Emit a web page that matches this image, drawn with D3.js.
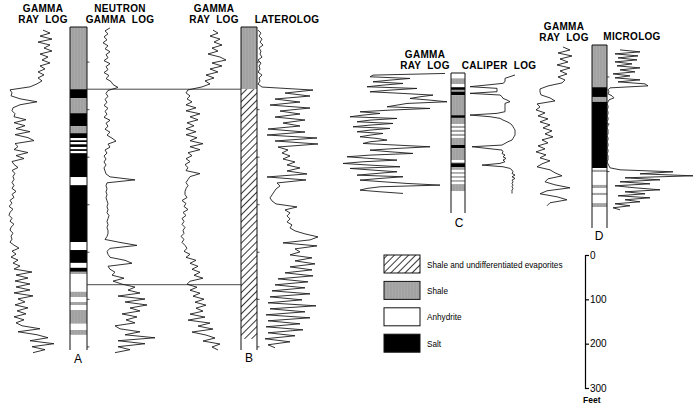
<!DOCTYPE html>
<html>
<head>
<meta charset="utf-8">
<script src="https://cdn.jsdelivr.net/npm/d3@7"></script>
<style>
  html, body { margin: 0; padding: 0; background: #fff; }
  svg { display: block; font-family: "Liberation Sans", Arial, sans-serif; }
</style>
</head>
<body>
<svg id="chart" width="700" height="406"></svg>
<script>
// lithology intervals per well: [top ft, base ft, rock]
const litA = [[0,140,'shale'],[140,160,'salt'],[160,194,'shale'],[194,223,'salt'],[223,239,'shale'],[239,250,'salt'],
  [250,255,'anhydrite'],[255,259,'salt'],[259,264,'anhydrite'],[264,270,'salt'],[270,275,'anhydrite'],[275,279,'salt'],
  [279,284,'anhydrite'],[284,338,'salt'],[338,356,'anhydrite'],[356,484,'salt'],[484,502,'anhydrite'],[502,531,'salt'],
  [531,542,'anhydrite'],[542,551,'salt'],[551,556,'shale'],[556,596,'anhydrite'],[596,608,'shale'],[608,619,'anhydrite'],
  [619,626,'shale'],[626,637,'anhydrite'],[637,668,'shale'],[668,682,'anhydrite'],[682,693,'shale'],[693,727,'anhydrite']];
const litB = [[0,140,'shale'],[140,702,'mixed'],[702,727,'anhydrite']];
const litC = [[0,12,'anhydrite'],[12,25,'shale'],[25,32,'anhydrite'],[32,38,'salt'],[38,42,'shale'],[42,50,'salt'],[50,95,'shale'],[95,101,'salt'],
  [101,115,'shale'],[115,119,'anhydrite'],[119,124,'shale'],[124,128,'anhydrite'],[128,133,'shale'],[133,137,'anhydrite'],
  [137,142,'shale'],[142,146,'anhydrite'],[146,162,'shale'],[162,169,'salt'],[169,196,'shale'],[196,201,'anhydrite'],
  [201,203,'shale'],[203,212,'salt'],[212,218,'shale'],[218,223,'anhydrite'],[223,227,'shale'],[227,232,'anhydrite'],
  [232,236,'shale'],[236,241,'anhydrite'],[241,245,'shale'],[245,250,'anhydrite'],[250,266,'shale'],[266,315,'anhydrite']];
const litD = [[0,95,'shale'],[95,117,'salt'],[117,128,'shale'],[128,277,'salt'],[277,281,'anhydrite'],[281,286,'shale'],
  [286,315,'anhydrite'],[315,322,'shale'],[322,333,'anhydrite'],[333,338,'shale'],[338,356,'anhydrite'],[356,365,'shale'],
  [365,412,'anhydrite']];

// total depth shown per well, feet
const wellDepth = { A: 727, B: 727, C: 315, D: 412 };
const tickDepthsAB = [79, 186, 293, 400, 507, 613, 720];
const tickDepthsD = [72, 178, 285];
const corrDepths = [140, 580];

// log readings, relative deflection (0-100), evenly spaced over their depth span
const gammaA = [76,90,70,94,66,90,78,94,70,86,74,90,70,80,66,78,66,74,64,50,10,14,12,30,64,30,16,14,20,18,42,18,40,22,50,20,
  46,58,20,26,18,46,22,38,14,18,26,14,20,16,18,14,18,14,22,14,18,10,14,8,16,10,8,14,10,18,12,10,16,12,14,10,18,28,14,22,12,
  26,16,30,18,54,22,46,20,50,22,50,18,56,26,40,20,46,24,42,18,38,22,34,70,26,64,86,50,98,54,80,56];
const neutronA = [20,10,16,8,14,6,16,10,20,12,16,8,20,12,16,8,18,12,22,26,36,16,12,16,10,14,8,16,10,14,8,20,12,16,10,20,14,
  24,32,16,20,10,14,8,12,8,12,8,10,12,20,70,14,12,14,12,14,12,14,16,14,16,14,18,16,14,16,14,16,16,14,10,40,74,20,14,16,20,
  50,64,16,20,30,24,48,26,44,70,56,80,36,90,50,94,60,80,44,74,52,70,30,40,80,50,110,36,90,36,60,30];
const gammaB = [66,76,60,80,68,84,64,76,56,80,92,64,84,60,76,52,68,50,60,44,16,12,20,14,24,12,32,12,40,20,36,14,28,12,32,12,
  34,20,46,20,40,16,24,12,20,10,16,12,40,20,16,12,16,12,10,10,14,4,12,8,16,6,12,4,8,4,10,6,8,2,8,4,10,14,8,20,12,32,20,36,
  24,40,28,46,20,14,34,20,40,26,48,30,52,32,46,20,50,16,60,36,66,24,52,70,46,80,64,76];
const lateroB = [2,8,4,10,6,12,4,8,6,10,2,8,4,6,2,10,4,6,2,10,112,56,106,36,86,26,106,46,86,36,96,52,86,22,96,20,120,36,122,
  42,62,50,66,52,76,60,86,60,100,20,98,40,46,38,34,30,26,30,38,80,56,66,60,66,60,70,66,76,96,122,106,52,120,76,86,66,110,
  76,116,66,110,56,112,42,102,36,96,30,106,26,90,22,118,26,96,18,106,22,86,18,92,22,76,16,66,22,36];
const gammaC = [105,33,30,70,50,33,63,43,27,77,50,30,63,93,80,70,90,107,67,57,47,90,50,20,40,23,10,57,30,17,53,30,13,50,30,
  17,43,30,20,37,47,30,23,57,90,57,30,50,73,30,7,30,57,23,3,30,60,10,33,57,37,17,63,40,20,43,67,100,40,27,20,40,63];
const caliperC = [100,90,80,80,80,76,44,10,64,64,64,10,70,74,76,84,90,80,80,80,80,80,80,64,10,50,70,76,84,90,94,96,98,100,
  100,100,100,98,96,94,86,80,74,14,44,74,76,74,80,76,82,76,80,70,34,76,90,94,96,94,100,94,100,94,96,94,96,94,96,94,94,94];
const gammaD = [66,80,56,84,60,76,54,80,60,74,56,70,64,36,20,20,22,40,50,14,20,12,30,16,36,20,40,26,44,30,46,24,36,16,30,12,
  32,20,40,24,14,40,50,64,36,30,50,80,34,20,54,74,40,34];
const microD = [15,35,10,33,13,32,10,27,12,35,15,30,8,25,10,35,13,40,43,5,3,4,3,7,9,4,
  3,2,3,3,2,3,3,2,3,3,2,3,3,2,3,3,3,2,3,3,2,3,3,2,3,3,2,3,3,3,2,3,4,
  5,15,68,35,88,20,55,15,45,10,30,55,20,40,13,45,20,35,10,25,8,15];

const legendItems = [
  { rock: 'mixed', label: 'Shale and undifferentiated evaporites' },
  { rock: 'shale', label: 'Shale' },
  { rock: 'anhydrite', label: 'Anhydrite' },
  { rock: 'salt', label: 'Salt' }
];
const scaleTicks = [0, 100, 200, 300];

// layout
const wellLayout = {
  A: { top: 27, bottom: 350, x0: 70, x1: 87, lx: 78, ly: 363, lit: litA, ticks: tickDepthsAB },
  B: { top: 27, bottom: 350, x0: 241, x1: 257, lx: 249, ly: 362, lit: litB, ticks: tickDepthsAB },
  C: { top: 73, bottom: 213, x0: 451, x1: 465, lx: 459, ly: 227, lit: litC, ticks: [] },
  D: { top: 45, bottom: 228, x0: 592, x1: 607, lx: 599, ly: 240, lit: litD, ticks: tickDepthsD }
};
const curves = [
  { data: gammaA, well: 'A', span: [7, 733], x: [5, 55] },
  { data: neutronA, well: 'A', span: [2, 733], x: [100, 150] },
  { data: gammaB, well: 'B', span: [7, 727], x: [180, 230] },
  { data: lateroB, well: 'B', span: [7, 722], x: [257, 307] },
  { data: gammaC, well: 'C', span: [1, 271], x: [340, 440] },
  { data: caliperC, well: 'C', span: [4.5, 271], x: [465, 515] },
  { data: gammaD, well: 'D', span: [4.5, 362], x: [530, 580] },
  { data: microD, well: 'D', span: [11, 371], x: [605, 705] }
];
const titles = [
  { lines: ['GAMMA', 'RAY LOG'], x: 43, y: 12 },
  { lines: ['NEUTRON', 'GAMMA LOG'], x: 120, y: 12 },
  { lines: ['GAMMA', 'RAY LOG'], x: 214, y: 12 },
  { lines: ['LATEROLOG'], x: 287, y: 23 },
  { lines: ['GAMMA', 'RAY LOG'], x: 425, y: 58 },
  { lines: ['CALIPER LOG'], x: 499, y: 69 },
  { lines: ['GAMMA', 'RAY LOG'], x: 564, y: 30 },
  { lines: ['MICROLOG'], x: 632, y: 40 }
];

const svg = d3.select('#chart');
const defs = svg.append('defs');

const shale = defs.append('pattern').attr('id', 'shale')
  .attr('patternUnits', 'userSpaceOnUse').attr('width', 3).attr('height', 6);
shale.append('rect').attr('width', 3).attr('height', 6).attr('fill', '#a9a9a9');
shale.append('line').attr('x1', 1).attr('x2', 1).attr('y1', 0).attr('y2', 6)
  .attr('stroke', '#909090').attr('stroke-width', 0.6);

const hatch = defs.append('pattern').attr('id', 'hatch')
  .attr('patternUnits', 'userSpaceOnUse').attr('width', 5).attr('height', 5)
  .attr('patternTransform', 'rotate(45)');
hatch.append('rect').attr('width', 5).attr('height', 5).attr('fill', '#fff');
hatch.append('line').attr('x1', 2.5).attr('x2', 2.5).attr('y1', 0).attr('y2', 5)
  .attr('stroke', '#222').attr('stroke-width', 0.9);

const rockFill = { shale: 'url(#shale)', mixed: 'url(#hatch)', anhydrite: '#fff', salt: '#000' };

// wells
const wellY = {};
Object.keys(wellLayout).forEach(k => {
  const L = wellLayout[k];
  const y = d3.scaleLinear().domain([0, wellDepth[k]]).range([L.top, L.bottom]);
  wellY[k] = y;
  const g = svg.append('g');
  g.selectAll('rect').data(L.lit).join('rect')
    .attr('x', L.x0).attr('width', L.x1 - L.x0)
    .attr('y', d => y(d[0])).attr('height', d => y(d[1]) - y(d[0]))
    .attr('fill', d => rockFill[d[2]]);
  g.append('path')
    .attr('d', `M${L.x0},${L.top}V${L.bottom}M${L.x1},${L.top}V${L.bottom}M${L.x0},${L.top}H${L.x1}`)
    .attr('stroke', '#111').attr('stroke-width', 1).attr('fill', 'none');
  g.selectAll('line').data(L.ticks).join('line')
    .attr('x1', L.x1).attr('x2', L.x1 + 2.5)
    .attr('y1', d => y(d)).attr('y2', d => y(d))
    .attr('stroke', '#222').attr('stroke-width', 0.8);
  g.append('text').attr('x', L.lx).attr('y', L.ly)
    .attr('text-anchor', 'middle').attr('font-size', 12).text(k);
});

// correlation lines between A and B
svg.selectAll('line.corr').data(corrDepths).join('line').attr('class', 'corr')
  .attr('x1', wellLayout.A.x1).attr('x2', wellLayout.B.x0)
  .attr('y1', d => wellY.A(d)).attr('y2', d => wellY.A(d))
  .attr('stroke', '#333').attr('stroke-width', 0.9);

// log curves
curves.forEach(c => {
  const xs = d3.scaleLinear().domain([0, 100]).range(c.x);
  const ds = d3.scaleLinear().domain([0, c.data.length - 1]).range(c.span);
  const line = d3.line()
    .x(v => xs(v))
    .y((v, i) => wellY[c.well](ds(i)));
  svg.append('path').datum(c.data)
    .attr('d', line)
    .attr('fill', 'none').attr('stroke', '#1c1c1c')
    .attr('stroke-width', 0.9).attr('stroke-linejoin', 'round');
});

// track titles
titles.forEach(t => {
  const txt = svg.append('text').attr('text-anchor', 'middle')
    .attr('font-size', 10).attr('font-weight', 'bold').attr('letter-spacing', 0.3)
    .attr('word-spacing', 3);
  t.lines.forEach((s, i) => {
    txt.append('tspan').attr('x', t.x).attr('y', t.y + i * 11).text(s);
  });
});

// legend
const legend = svg.append('g').attr('transform', 'translate(384,255)');
const rows = legend.selectAll('g').data(legendItems).join('g')
  .attr('transform', (d, i) => `translate(0,${i * 26.4})`);
rows.append('rect').attr('width', 36).attr('height', 18)
  .attr('fill', d => rockFill[d.rock]).attr('stroke', '#111').attr('stroke-width', 1);
rows.append('text').attr('x', 43).attr('y', 12.5)
  .attr('font-size', 8.2).text(d => d.label);

// depth scale
const feet = d3.scaleLinear().domain([0, 300]).range([255, 388]);
const axis = svg.append('g').attr('transform', 'translate(585,0)')
  .call(d3.axisRight(feet).tickValues(scaleTicks).tickSize(4).tickSizeOuter(4).tickPadding(1));
axis.attr('font-family', null).attr('font-size', null);
axis.selectAll('text').attr('font-size', 10).attr('fill', '#000');
axis.selectAll('path, line').attr('stroke', '#000').attr('stroke-width', 1.2);
svg.append('text').attr('x', 583).attr('y', 403)
  .attr('font-size', 8.5).attr('font-weight', 'bold').text('Feet');
</script>
</body>
</html>
